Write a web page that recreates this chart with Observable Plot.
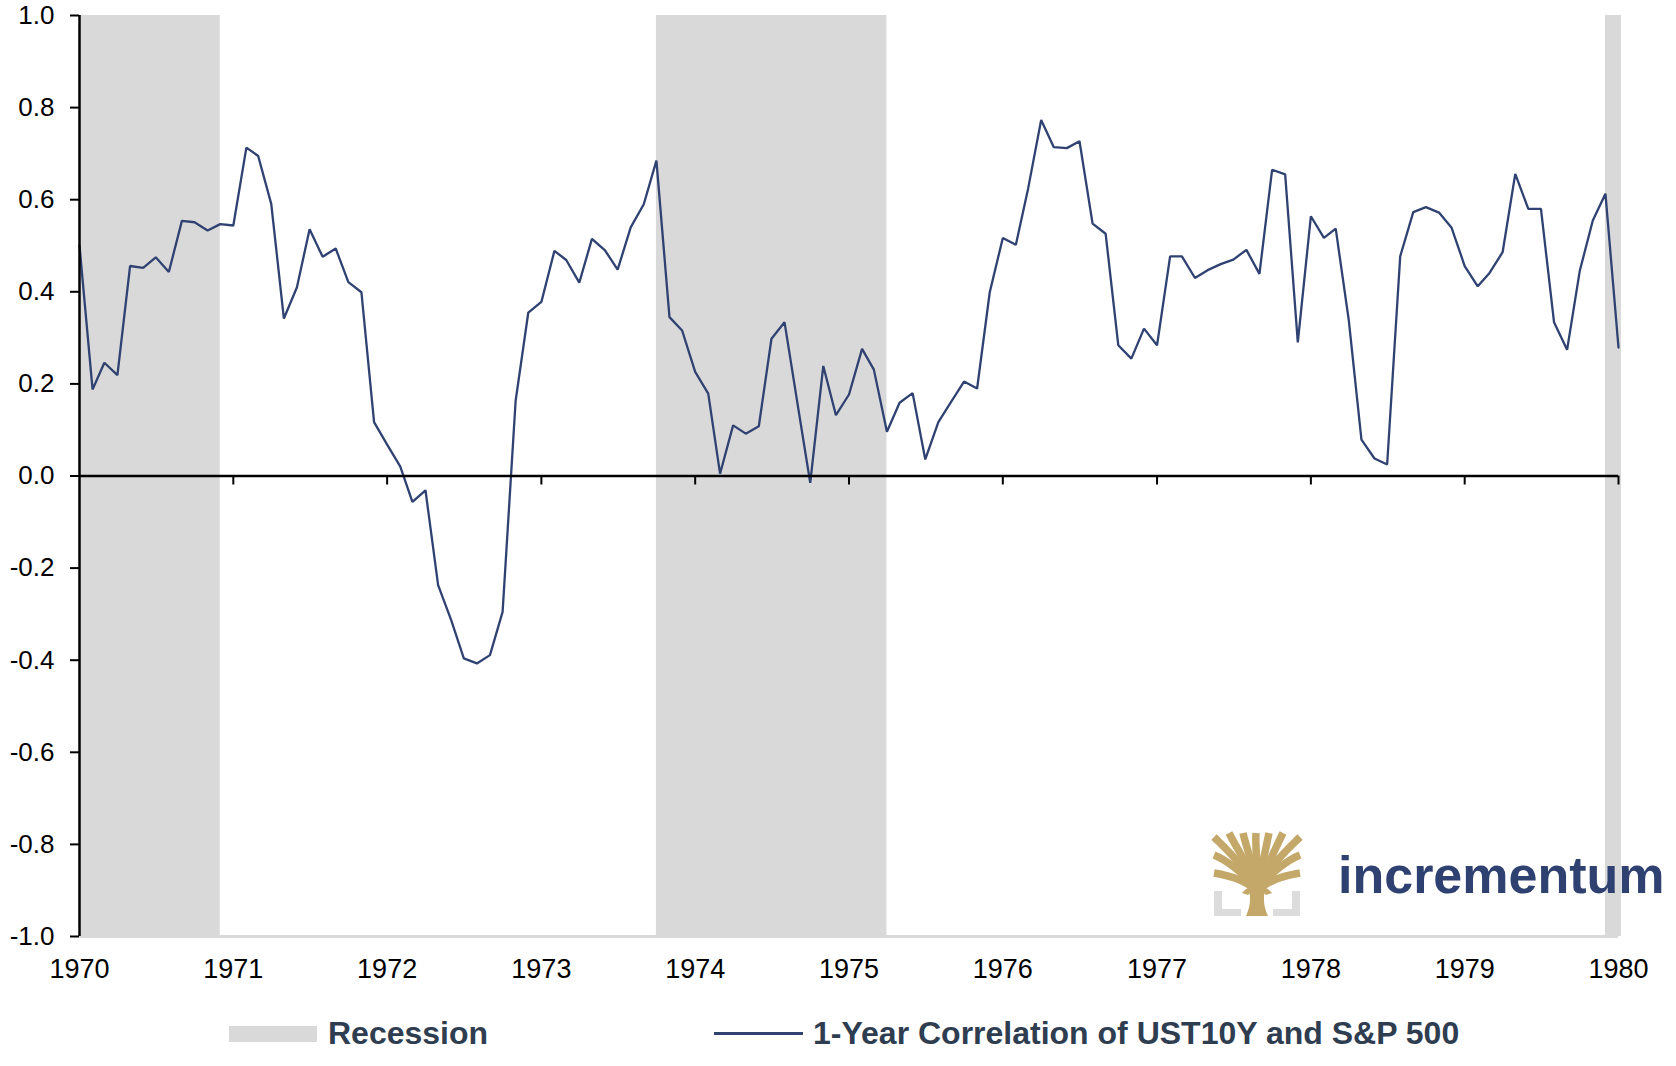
<!DOCTYPE html>
<html>
<head>
<meta charset="utf-8">
<script src="https://cdn.jsdelivr.net/npm/d3@7"></script>
<script src="https://cdn.jsdelivr.net/npm/@observablehq/plot@0.6"></script>
<style>
  html, body { margin: 0; padding: 0; background: #fff; }
  #wrap { position: relative; width: 1676px; height: 1066px; font-family: "Liberation Sans", Arial, sans-serif; }
  #logo { position: absolute; left: 0; top: 0; pointer-events: none; }
</style>
</head>
<body>
<div id="wrap">
  <div id="chart"></div>
  <div id="legend"></div>
  <svg id="logo" width="1676" height="1066"></svg>
</div>
<script>
// ---- data ----
const seriesStart = "1970-01-01";           // first monthly observation
const correlation = [
  0.500, 0.188, 0.246, 0.219, 0.456, 0.452, 0.475, 0.443, 0.554, 0.551, 0.533, 0.547,
  0.544, 0.713, 0.695, 0.591, 0.342, 0.410, 0.536, 0.476, 0.494, 0.421, 0.399, 0.117,
  0.068, 0.021, -0.056, -0.031, -0.237, -0.313, -0.396, -0.407, -0.389, -0.295, 0.164, 0.355,
  0.378, 0.489, 0.469, 0.420, 0.515, 0.490, 0.448, 0.540, 0.590, 0.685, 0.345, 0.316,
  0.226, 0.179, 0.005, 0.110, 0.092, 0.108, 0.298, 0.334, 0.156, -0.015, 0.239, 0.132,
  0.177, 0.276, 0.231, 0.096, 0.159, 0.180, 0.036, 0.117, 0.162, 0.205, 0.190, 0.399,
  0.517, 0.502, 0.624, 0.773, 0.714, 0.712, 0.727, 0.548, 0.526, 0.284, 0.255, 0.320,
  0.284, 0.477, 0.477, 0.430, 0.447, 0.460, 0.470, 0.491, 0.439, 0.665, 0.655, 0.290,
  0.564, 0.517, 0.537, 0.338, 0.079, 0.038, 0.025, 0.477, 0.573, 0.584, 0.572, 0.539,
  0.456, 0.412, 0.441, 0.486, 0.656, 0.580, 0.580, 0.334, 0.274, 0.445, 0.555, 0.613,
  0.279
];
const recessionStart = ["1970-01-01", "1973-10-01", "1979-12-01"];
const recessionEnd   = ["1970-12-01", "1975-04-01", "1980-01-08"];
const xTickYears = [1970, 1971, 1972, 1973, 1974, 1975, 1976, 1977, 1978, 1979, 1980];
const yTicks = [-1, -0.8, -0.6, -0.4, -0.2, 0, 0.2, 0.4, 0.6, 0.8, 1];
const seriesLabel = "1-Year Correlation of UST10Y and S&P 500";
const recessionLabel = "Recession";

// ---- derived tables ----
const start = new Date(seriesStart);
const series = correlation.map((v, i) => ({date: d3.utcMonth.offset(start, i), value: v}));
const recessions = recessionStart.map((s, i) => ({start: new Date(s), end: new Date(recessionEnd[i])}));
const xTicks = xTickYears.map(y => new Date(Date.UTC(y, 0, 1)));

const NAVY = "#2f4272";
const BAND = "#d9d9d9";

const chart = Plot.plot({
  width: 1676,
  height: 1000,
  marginLeft: 79,
  marginRight: 58,
  marginTop: 15,
  marginBottom: 64,
  style: {fontFamily: '"Liberation Sans", Arial, sans-serif', fontSize: "26px", color: "#000", background: "#fff", overflow: "visible"},
  x: {type: "utc", domain: [xTicks[0], xTicks[xTicks.length - 1]], label: null},
  y: {domain: [-1, 1], label: null},
  marks: [
    Plot.rect(recessions, {x1: "start", x2: "end", fill: BAND}),
    Plot.ruleY([-1], {stroke: BAND, strokeWidth: 3}),
    Plot.line(series, {x: "date", y: "value", stroke: NAVY, strokeWidth: 2.3, strokeLinejoin: "miter"}),
    Plot.ruleY([0], {stroke: "#000", strokeWidth: 2.5}),
    Plot.ruleX(xTicks.slice(1), {x: d => d, y1: 0, y2: 0, insetBottom: -9, stroke: "#000", strokeWidth: 2}),
    Plot.ruleX([xTicks[0]], {stroke: "#000", strokeWidth: 2.5}),
    Plot.axisY({ticks: yTicks, tickFormat: d => d.toFixed(1), tickSize: 9, tickPadding: 16, stroke: "#000", strokeWidth: 2, fill: "#000", fontSize: 26}),
    Plot.axisX({ticks: xTicks, tickFormat: d3.utcFormat("%Y"), tickSize: 0, tickPadding: 22, fill: "#000", fontSize: 27})
  ]
});
document.getElementById("chart").appendChild(chart);

// ---- legend (below the chart) ----
const lg = d3.select("#legend").append("svg").attr("width", 1676).attr("height", 66).style("display", "block");
lg.append("rect").attr("x", 229).attr("y", 26).attr("width", 88).attr("height", 16).attr("fill", BAND);
lg.append("text").attr("x", 328).attr("y", 43.5).text(recessionLabel)
  .attr("font-family", '"Liberation Sans", Arial, sans-serif').attr("font-weight", "bold").attr("font-size", 32).attr("fill", "#2f3d50");
lg.append("line").attr("x1", 714).attr("x2", 803).attr("y1", 33.5).attr("y2", 33.5).attr("stroke", NAVY).attr("stroke-width", 3);
lg.append("text").attr("x", 813).attr("y", 43.5).text(seriesLabel)
  .attr("font-family", '"Liberation Sans", Arial, sans-serif').attr("font-weight", "bold").attr("font-size", 32).attr("fill", "#2f3d50");

// ---- logo (decoration) ----
const logo = d3.select("#logo");
const g = logo.append("g").attr("transform", "translate(1214,833)");
const GOLD = "#c4a86a";
const GREY = "#dcdcdc";
// grey corner brackets
g.append("path").attr("d", "M0 58 H8 V76 H27 V83 H0 Z").attr("fill", GREY);
g.append("path").attr("d", "M86 58 H78 V76 H59 V83 H86 Z").attr("fill", GREY);
// trunk
g.append("path").attr("d", "M32 83 C37 72 37 64 34 52 L52 52 C49 64 49 72 54 83 Z").attr("fill", GOLD);
// branches
const branches = [
  "M40 56 C30 46 12 42 0 40",
  "M40 54 C28 38 10 26 0 22",
  "M41 52 C28 30 10 14 0 4",
  "M42 52 C34 32 22 14 15 0",
  "M43 52 C40 34 32 14 29 0",
  "M43 52 C44 34 41 14 42 0",
  "M44 52 C48 34 52 14 55 0",
  "M45 52 C54 32 62 14 69 0",
  "M45 52 C58 30 76 14 86 4",
  "M46 54 C58 38 76 26 86 22",
  "M46 56 C56 46 74 42 86 40"
];
branches.forEach(d => g.append("path").attr("d", d).attr("fill", "none").attr("stroke", GOLD).attr("stroke-width", 7.5));
g.append("path").attr("d", "M28 60 C36 50 50 50 58 60 L52 62 C46 56 40 56 34 62 Z").attr("fill", GOLD);
logo.append("text").attr("x", 1338).attr("y", 893).text("incrementum")
  .attr("font-family", '"Liberation Sans", Arial, sans-serif').attr("font-weight", "bold").attr("font-size", 52)
  .attr("fill", "#2e4170");
</script>
</body>
</html>
